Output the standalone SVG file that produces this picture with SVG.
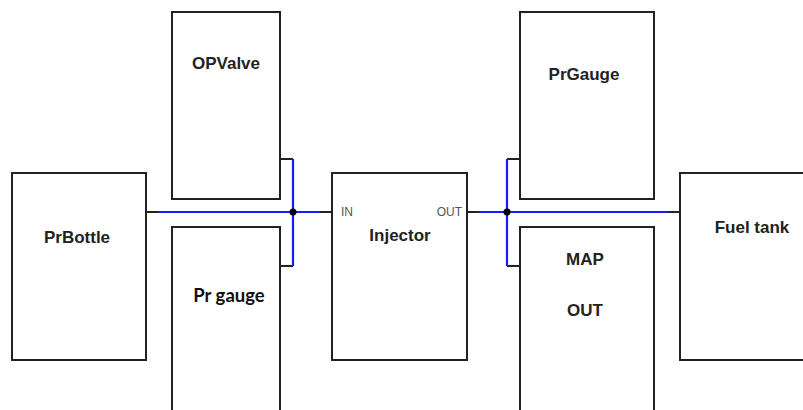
<svg xmlns="http://www.w3.org/2000/svg" width="803" height="410" viewBox="0 0 803 410">
<style>
.box{fill:#fff;stroke:#222;stroke-width:2}
.lbl{font-family:"Liberation Sans",Arial,sans-serif;font-weight:bold;font-size:17px;fill:#222;text-anchor:middle}
.lbl2{font-family:Lato,"Open Sans",sans-serif;font-weight:bold;font-size:18.5px;fill:#111;text-anchor:middle}
.port{font-family:"Liberation Sans",Arial,sans-serif;font-size:12px;fill:#555}
.stub{stroke:#222;stroke-width:2;fill:none}
.wire{stroke:#1a1aff;stroke-width:2.2;fill:none}
.dot{fill:#000}
</style>
<rect width="803" height="410" fill="#fff"/>
<g id="connectors">
<path class="stub" d="M146 212H158M320 212H332M280 159H293M280 266H293"/>
<path class="wire" d="M158 212H320M293 159V266"/>
<circle class="dot" cx="293" cy="212" r="3.5"/>
<path class="stub" d="M467 212H479M668 212H680M507 159H520M507 266H520"/>
<path class="wire" d="M479 212H668M507 159V266"/>
<circle class="dot" cx="507" cy="212" r="3.5"/>
</g>
<g id="PrBottle">
<rect class="box" x="12" y="173" width="134" height="187"/>
<text class="lbl" x="77" y="243">PrBottle</text>
</g>
<g id="OPValve">
<rect class="box" x="172" y="12" width="108" height="187"/>
<text class="lbl" x="226" y="69">OPValve</text>
</g>
<g id="PrGaugeLow">
<rect class="box" x="172" y="227" width="108" height="200"/>
<text class="lbl2" x="229" y="302">Pr gauge</text>
</g>
<g id="Injector">
<rect class="box" x="332" y="173" width="135" height="187"/>
<text class="port" x="341" y="216">IN</text>
<text class="port" x="462" y="216" text-anchor="end">OUT</text>
<text class="lbl" x="400" y="241">Injector</text>
</g>
<g id="PrGauge">
<rect class="box" x="520" y="12" width="134" height="187"/>
<text class="lbl" x="584" y="80">PrGauge</text>
</g>
<g id="MAP">
<rect class="box" x="520" y="227" width="134" height="200"/>
<text class="lbl" x="585" y="265">MAP</text>
<text class="lbl" x="585" y="316">OUT</text>
</g>
<g id="FuelTank">
<rect class="box" x="680" y="173" width="140" height="187"/>
<text class="lbl" x="752" y="233">Fuel tank</text>
</g>
</svg>
